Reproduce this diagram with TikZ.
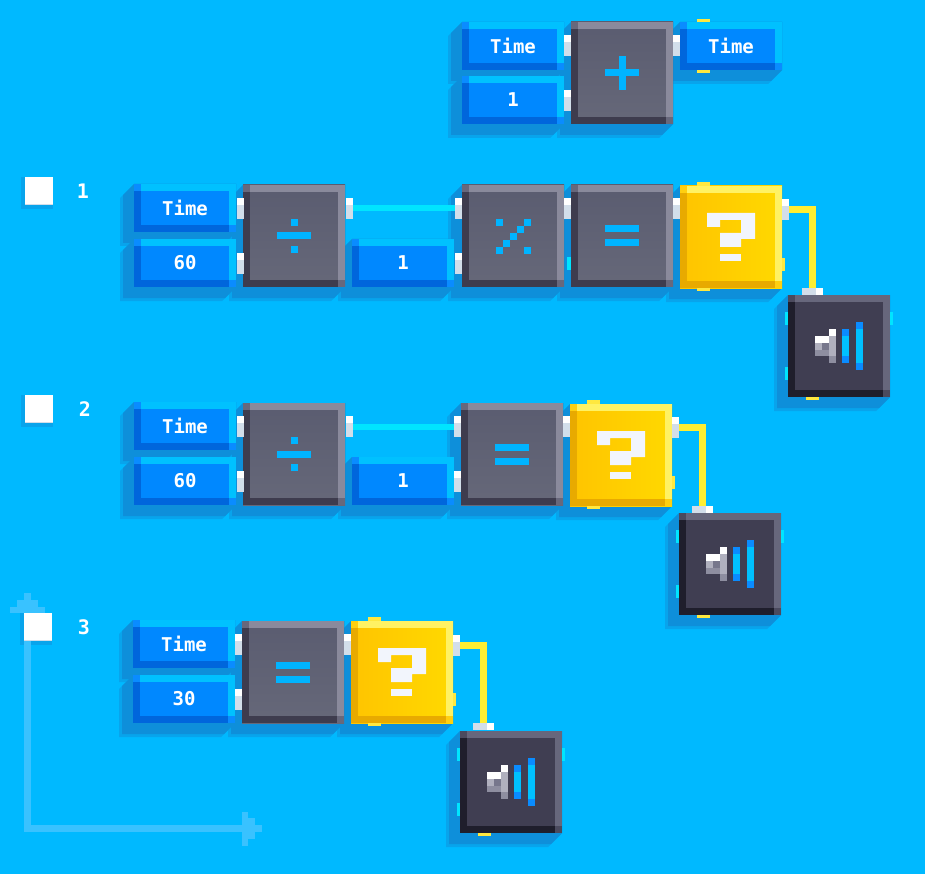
\documentclass[tikz,border=0pt]{standalone}
\usepackage{fontspec}
\usepackage{xcolor}
\usepackage{tikz}
\newfontfamily\pixelfont{DejaVu Sans Mono}
\definecolor{skyback}{HTML}{00B9FF}
\definecolor{shadowblue}{HTML}{0E8FDA}
\definecolor{shadowfade}{HTML}{08A4EC}
\definecolor{axisblue}{HTML}{39C2FF}
\definecolor{glyphblue}{HTML}{00B4FF}
\definecolor{valmain}{HTML}{0088FF}
\definecolor{vallight}{HTML}{00C1FF}
\definecolor{valdark}{HTML}{0066DC}
\definecolor{valcorner}{HTML}{0A8CFF}
\definecolor{optop}{HTML}{5A5C70}
\definecolor{opbottom}{HTML}{666879}
\definecolor{oplight}{HTML}{8A8A9C}
\definecolor{opdark}{HTML}{3E3C4E}
\definecolor{opcorner}{HTML}{68687C}
\definecolor{askleft}{HTML}{FFC400}
\definecolor{askright}{HTML}{FFD900}
\definecolor{asklight}{HTML}{FFF263}
\definecolor{askdark}{HTML}{E8AA00}
\definecolor{askcorner}{HTML}{FFCF10}
\definecolor{soundmain}{HTML}{403E52}
\definecolor{soundlight}{HTML}{67677C}
\definecolor{sounddark}{HTML}{1F1E2C}
\definecolor{soundcorner}{HTML}{4B4A5E}
\definecolor{speakerpale}{HTML}{B0B0BE}
\definecolor{speakermid}{HTML}{8E8EA0}
\definecolor{speakerdim}{HTML}{77778C}
\definecolor{portgrey}{HTML}{D2DEEA}
\definecolor{wirecyan}{HTML}{00E5FF}
\definecolor{wireyellow}{HTML}{FFEE33}
\definecolor{tabyellow}{HTML}{FFE83F}
\definecolor{questionwhite}{HTML}{F2F5FC}
\pgfdeclarelayer{shadow}
\pgfsetlayers{shadow,main}
\tikzset{
    bevel/.style n args={4}{path picture={
        \fill[#1] (path picture bounding box.north west) rectangle ([yshift=-7pt]path picture bounding box.north east);
        \fill[#1] ([xshift=-7pt]path picture bounding box.north east) rectangle (path picture bounding box.south east);
        \fill[#2] (path picture bounding box.north west) rectangle ([xshift=7pt]path picture bounding box.south west);
        \fill[#2] ([yshift=7pt]path picture bounding box.south west) rectangle (path picture bounding box.south east);
        \fill[#3] (path picture bounding box.north west) rectangle ([shift={(7pt,-7pt)}]path picture bounding box.north west);
        \fill[#4] (path picture bounding box.south east) rectangle ([shift={(-7pt,7pt)}]path picture bounding box.south east);
    }},
    block/.style={rectangle, anchor=north west, inner sep=0pt, outer sep=0pt},
    valuebox/.style={block, minimum width=102pt, minimum height=48pt, fill=valmain, text=white,
        font=\pixelfont\bfseries\fontsize{19}{19}\selectfont, bevel={vallight}{valdark}{valcorner}{valcorner}},
    opbox/.style={block, minimum width=102pt, minimum height=102pt, top color=optop, bottom color=opbottom,
        bevel={oplight}{opdark}{opcorner}{opcorner}},
    askbox/.style={block, minimum width=102pt, minimum height=102pt, left color=askleft, right color=askright,
        bevel={asklight}{askdark}{askcorner}{askcorner}},
    soundbox/.style={block, minimum width=102pt, minimum height=102pt, fill=soundmain,
        bevel={soundlight}{sounddark}{soundcorner}{soundcorner}},
    sideport/.style={block, minimum width=7pt, minimum height=21pt, fill=portgrey, path picture={
        \fill[white] (path picture bounding box.north west) rectangle ([yshift=-7pt]path picture bounding box.north east);}},
    topport/.style={block, minimum width=21pt, minimum height=7pt, fill=portgrey, path picture={
        \fill[white] ([xshift=-7pt]path picture bounding box.north east) rectangle (path picture bounding box.south east);}},
    checkbox/.style={block, minimum width=28pt, minimum height=28pt, fill=white, path picture={
        \fill[portgrey] ([yshift=1pt]path picture bounding box.south west) rectangle (path picture bounding box.south east);}},
    rownumber/.style={inner sep=0pt, text=white, font=\pixelfont\bfseries\fontsize{20}{20}\selectfont},
    cyanwire/.style={wirecyan, line width=6pt},
    yellowwire/.style={wireyellow, line width=6.5pt},
    axisline/.style={axisblue, line width=7pt},
    pics/plusglyph/.style={code={
        \fill[glyphblue] (-17,-3.5) rectangle (17,3.5);
        \fill[glyphblue] (-3.5,-17) rectangle (3.5,17);
    }},
    pics/divglyph/.style={code={
        \fill[glyphblue] (-17,-3.5) rectangle (17,3.5);
        \fill[glyphblue] (-3.5,-17) rectangle (3.5,-10);
        \fill[glyphblue] (-3.5,10) rectangle (3.5,17);
    }},
    pics/eqglyph/.style={code={
        \fill[glyphblue] (-17,-10.5) rectangle (17,-3.5);
        \fill[glyphblue] (-17,3.5) rectangle (17,10.5);
    }},
    pics/modglyph/.style={code={
        \foreach \c/\r in {-17/-17,11/-17,4/-10,-3/-3,-10/4,-17/11,11/11}
            \fill[glyphblue] (\c,\r) rectangle ++(7,7);
    }},
    pics/askglyph/.style={code={
        \fill[questionwhite] (-24,-24) -- (24,-24) -- (24,2) -- (10,2) -- (10,10) -- (-11,10) -- (-11,-4) -- (10,-4) -- (10,-17) -- (-11,-17) -- (-11,-10) -- (-24,-10) -- cycle;
        \fill[questionwhite] (-11,17) rectangle (10,24);
    }},
    pics/soundglyph/.style={code={
        \fill[white] (-24,-10) rectangle (-10,-3);
        \fill[white] (-10,-17) rectangle (-3,-10);
        \fill[speakerpale] (-10,-10) rectangle (-3,10);
        \fill[speakerpale] (-24,-3) rectangle (-17,4);
        \fill[speakerdim] (-17,-3) rectangle (-10,4);
        \fill[speakermid] (-24,4) rectangle (-10,10);
        \fill[speakermid] (-10,10) rectangle (-3,17);
        \fill[valcorner] (3,-17) rectangle (10,17);
        \fill[vallight] (3,-10) rectangle (10,10);
        \fill[valcorner] (17,-24) rectangle (24,24);
        \fill[vallight] (17,-17) rectangle (24,17);
    }},
}
\begin{document}
\begin{tikzpicture}[x=1pt,y=-1pt]
    \useasboundingbox (0,0) rectangle (925,874);
    % top row
    \node[valuebox] (time0) at (462,22) {Time};
    \node[valuebox] (one0) at (462,76) {1};
    \node[opbox] (add0) at (571,22) {};
    \node[valuebox] (out0) at (680,22) {Time};
    \node[sideport] (p0a) at (564,35) {};
    \node[sideport] (p0b) at (564,90) {};
    \node[sideport] (p0c) at (673,35) {};
    % row 1
    \node[checkbox] (check1) at (25,177) {};
    \node[rownumber] (num1) at (83,191) {1};
    \node[valuebox] (time1) at (134,184) {Time};
    \node[valuebox] (sixty1) at (134,239) {60};
    \node[opbox] (div1) at (243,185) {};
    \node[valuebox] (one1) at (352,239) {1};
    \node[opbox] (mod1) at (462,185) {};
    \node[opbox] (eq1) at (571,185) {};
    \node[askbox] (ask1) at (680,186) {};
    \node[soundbox] (sound1) at (788,295) {};
    \node[sideport] (p1a) at (237,198) {};
    \node[sideport] (p1b) at (237,253) {};
    \node[sideport] (p1c) at (346,198) {};
    \node[sideport] (p1d) at (455,198) {};
    \node[sideport] (p1e) at (455,253) {};
    \node[sideport] (p1f) at (564,198) {};
    \node[sideport] (p1g) at (673,198) {};
    \node[sideport] (p1h) at (782,199) {};
    \node[topport] (p1i) at (802,288) {};
    % row 2
    \node[checkbox] (check2) at (25,395) {};
    \node[rownumber] (num2) at (85,409) {2};
    \node[valuebox] (time2) at (134,402) {Time};
    \node[valuebox] (sixty2) at (134,457) {60};
    \node[opbox] (div2) at (243,403) {};
    \node[valuebox] (one2) at (352,457) {1};
    \node[opbox] (eq2) at (461,403) {};
    \node[askbox] (ask2) at (570,404) {};
    \node[soundbox] (sound2) at (679,513) {};
    \node[sideport] (p2a) at (237,416) {};
    \node[sideport] (p2b) at (237,471) {};
    \node[sideport] (p2c) at (346,416) {};
    \node[sideport] (p2d) at (454,416) {};
    \node[sideport] (p2e) at (454,471) {};
    \node[sideport] (p2f) at (563,416) {};
    \node[sideport] (p2g) at (672,417) {};
    \node[topport] (p2h) at (692,506) {};
    % row 3
    \node[checkbox] (check3) at (24,613) {};
    \node[rownumber] (num3) at (84,627) {3};
    \node[valuebox] (time3) at (133,620) {Time};
    \node[valuebox] (thirty3) at (133,675) {30};
    \node[opbox] (eq3) at (242,621) {};
    \node[askbox] (ask3) at (351,621) {};
    \node[soundbox] (sound3) at (460,731) {};
    \node[sideport] (p3a) at (235,634) {};
    \node[sideport] (p3b) at (235,689) {};
    \node[sideport] (p3c) at (344,634) {};
    \node[sideport] (p3d) at (453,635) {};
    \node[topport] (p3e) at (473,723) {};
    % wires
    \draw[cyanwire] (p1c.east) -- (p1d.west);
    \draw[cyanwire] (p2c.east) -- (p2d.west);
    \draw[yellowwire] (p1h.east) -| (p1i.north);
    \draw[yellowwire] (p2g.east) -| (p2h.north);
    \draw[yellowwire] (p3d.east) -| (p3e.north);
    % glyphs
    \pic at (add0.center) {plusglyph};
    \pic at (div1.center) {divglyph};
    \pic at (div2.center) {divglyph};
    \pic at (mod1.center) {modglyph};
    \foreach \n in {eq1,eq2,eq3} \pic at (\n.center) {eqglyph};
    \foreach \n in {ask1,ask2,ask3} \pic at (\n.center) {askglyph};
    \foreach \n in {sound1,sound2,sound3} \pic at (\n.center) {soundglyph};
    % small tabs
    \foreach \n in {ask1,ask2,ask3} {
        \fill[tabyellow] ([xshift=17pt]\n.north west) rectangle ++(13,-4);
        \fill[tabyellow] ([xshift=17pt]\n.south west) rectangle ++(13,3);
        \fill[tabyellow] ([yshift=-72pt]\n.north east) rectangle ++(3,13);
    }
    \foreach \n in {sound1,sound2,sound3} {
        \fill[wirecyan] ([yshift=-17pt]\n.north west) rectangle ++(-3,13);
        \fill[wirecyan] ([yshift=-72pt]\n.north west) rectangle ++(-3,13);
        \fill[wirecyan] ([yshift=-17pt]\n.north east) rectangle ++(3,13);
        \fill[tabyellow] ([xshift=18pt]\n.south west) rectangle ++(13,3);
    }
    \fill[tabyellow] ([xshift=17pt]out0.north west) rectangle ++(13,-3);
    \fill[tabyellow] ([xshift=17pt]out0.south west) rectangle ++(13,3);
    \fill[wirecyan] ([yshift=-72pt]eq1.north west) rectangle ++(-4,13);
    % axes behind the third box
    \coordinate (axistop) at (27.5,613);
    \coordinate (axisend) at (242,828.5);
    \begin{pgfonlayer}{shadow}
        \fill[skyback] (0,0) rectangle (925,874);
        \foreach \d/\c in {14/shadowfade,11/shadowblue}
            \foreach \n in {time0,one0,add0,out0,time1,sixty1,div1,one1,mod1,eq1,ask1,sound1,
                time2,sixty2,div2,one2,eq2,ask2,sound2,time3,thirty3,eq3,ask3,sound3}
                \fill[\c] (\n.north west) -- (\n.north east) -- (\n.south east)
                    -- ([shift={(-\d pt,-\d pt)}]\n.south east) -- ([shift={(-\d pt,-\d pt)}]\n.south west)
                    -- ([shift={(-\d pt,-\d pt)}]\n.north west) -- cycle;
        \foreach \n in {check1,check2,check3}
            \fill[shadowfade] ([xshift=-4pt]\n.north west) rectangle ([yshift=-4pt]\n.south east);
        \draw[axisline] (axistop) |- (axisend);
        \fill[axisblue] (24,593) rectangle (31,600);
        \fill[axisblue] (17,600) rectangle (38,607);
        \fill[axisblue] (10,607) rectangle (45,613);
        \fill[axisblue] (242,812) rectangle (248,846);
        \fill[axisblue] (248,818) rectangle (255,839);
        \fill[axisblue] (255,825) rectangle (262,832);
    \end{pgfonlayer}
\end{tikzpicture}
\end{document}
